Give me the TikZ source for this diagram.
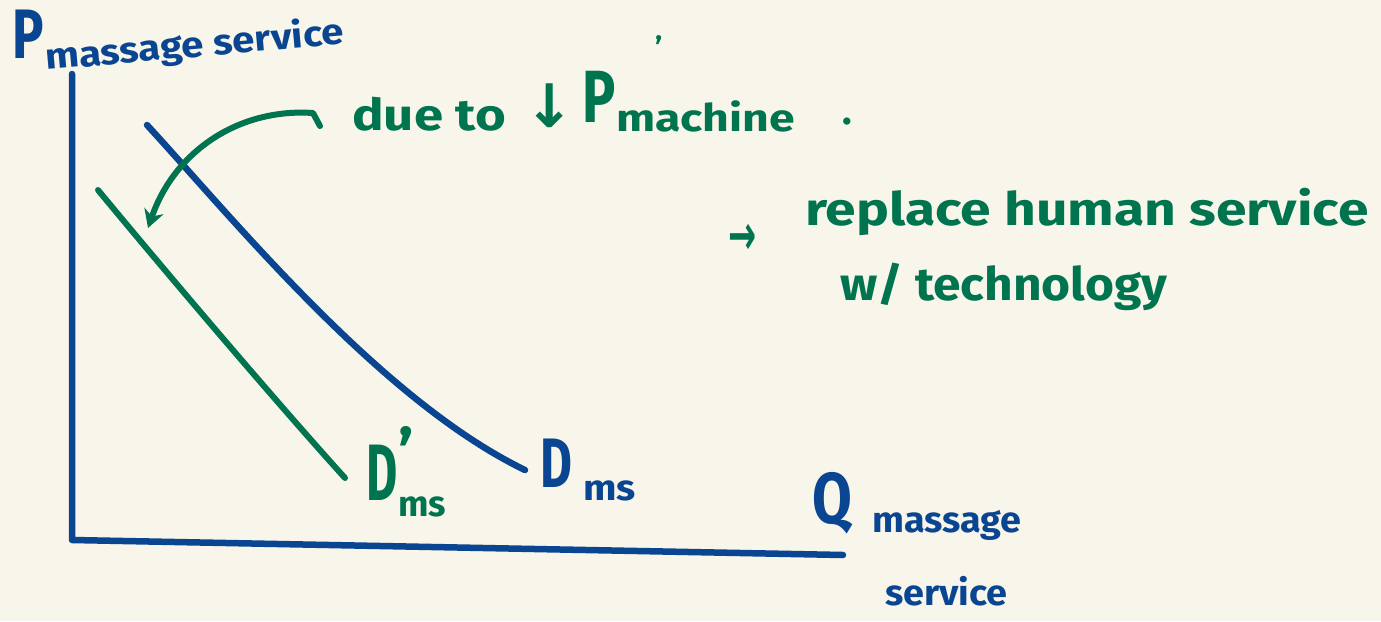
\documentclass[tikz,border=0pt]{standalone}
\usepackage{fontspec}
\setmainfont{Fira Sans}
\newfontfamily\symfont{DejaVu Sans}
\usetikzlibrary{arrows.meta}
\definecolor{bg}{HTML}{F8F6EA}
\definecolor{inkblue}{HTML}{0A4592}
\definecolor{inkgreen}{HTML}{00734F}
\newcommand{\fs}[1]{\fontsize{#1}{#1}\selectfont}
\begin{document}
\begin{tikzpicture}[x=1pt,y=-1pt,
  bluepen/.style={draw=inkblue,line width=6.5pt,line cap=round,line join=round},
  greenpen/.style={draw=inkgreen,line width=6pt,line cap=round,line join=round},
  bluetxt/.style={text=inkblue,inner sep=0pt,anchor=base west},
  greentxt/.style={text=inkgreen,inner sep=0pt,anchor=base west}]
\fill[bg] (0,0) rectangle (1381,621);
\useasboundingbox (0,0) rectangle (1381,621);
% axes
\coordinate (ytop) at (72,74);
\coordinate (orig) at (72,540);
\coordinate (xend) at (843,555);
\draw[bluepen] (ytop) -- (orig) -- (xend);
% demand curves
\coordinate (d1) at (147,125);
\coordinate (d2) at (525,470);
\draw[bluepen] (d1) .. controls (230,215) and (380,400) .. (d2);
\coordinate (g1) at (98,190);
\coordinate (g2) at (345,478);
\draw[greenpen] (g1) .. controls (160,265) and (270,395) .. (g2);
% shift arrow
\coordinate (s) at (320,126);
\coordinate (t) at (148,228);
\draw[greenpen,-{Stealth[length=18pt,width=20pt]}] (s) -- (313,113) .. controls (240,108) and (175,150) .. (t);
% axis labels
\node[bluetxt,font=\fs{70}] (P) at (12,58) {\bfseries\scalebox{0.75}[1]{P}};
\node[bluetxt,font=\fs{36},rotate=5] (Psub) at (46,70) {\bfseries\scalebox{1.12}[1]{massage service}};
\node[bluetxt,font=\fs{72}] (Q) at (812,523) {\bfseries\scalebox{0.8}[1]{Q}};
\node[bluetxt,font=\fs{36}] (Qsub1) at (872,532) {\bfseries\scalebox{1.05}[1]{massage}};
\node[bluetxt,font=\fs{36}] (Qsub2) at (885,605) {\bfseries\scalebox{1.05}[1]{service}};
% curve labels
\node[bluetxt,font=\fs{70}] (D) at (540,487) {\bfseries\scalebox{0.7}[1]{D}};
\node[bluetxt,font=\fs{36}] (Dsub) at (583,500) {\bfseries\scalebox{1.1}[1]{ms}};
\node[greentxt,font=\fs{80}] (Dp) at (366,500) {\bfseries\scalebox{0.6}[1]{D}};
\node[greentxt,font=\fs{64}] (Dpprime) at (398,475) {\bfseries '};
\node[greentxt,font=\fs{36}] (Dpsub) at (398,516) {\bfseries ms};
% annotations
\node[greentxt,font=\fs{44}] (due) at (352,130) {\bfseries\scalebox{1.2}[1]{due to}};
\node[greentxt,font=\fs{60}] (down) at (524,127) {\symfont\bfseries ↓};
\node[greentxt,font=\fs{74}] (Pm) at (582,122) {\bfseries\scalebox{0.75}[1]{P}};
\node[greentxt,font=\fs{30}] (Pmprime) at (655,58) {\bfseries '};
\node[greentxt,font=\fs{38}] (Pmsub) at (616,131) {\bfseries\scalebox{1.22}[1]{machine}};
\node[greentxt,font=\fs{40}] (dot) at (842,124) {\bfseries .};
\node[greentxt,font=\fs{56}] (arr) at (728,254) {\symfont\bfseries\scalebox{0.6}[1]{→}};
\node[greentxt,font=\fs{46}] (rep) at (805,225) {\bfseries\scalebox{1.2}[1]{replace human service}};
\node[greentxt,font=\fs{46}] (tech) at (840,300) {\bfseries\scalebox{1.08}[1]{w/ technology}};
\end{tikzpicture}
\end{document}
